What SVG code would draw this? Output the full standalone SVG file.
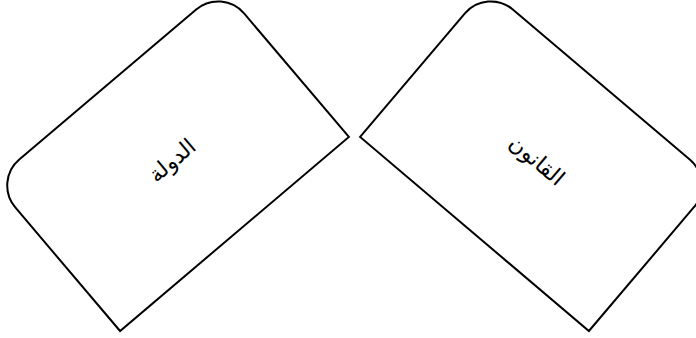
<svg xmlns="http://www.w3.org/2000/svg" width="696" height="338" viewBox="0 0 696 338">
<style>
.shape{fill:#fff;stroke:#000;stroke-width:2;stroke-linejoin:miter}
.lbl{font-family:"Noto Sans","DejaVu Sans",sans-serif;font-size:22px;fill:#000;text-anchor:middle;dominant-baseline:central}
</style>
<defs>
<path id="card" d="M -150,98 L -150,-64 A 34 34 0 0 1 -116,-98 L 116,-98 A 34 34 0 0 1 150,-64 L 150,98 Z"/>
</defs>
<rect width="696" height="338" fill="#fff"/>
<g id="connectors"></g>
<g id="node-state" transform="translate(171.1,159.25) rotate(-40.3)">
<use href="#card" class="shape"/>
<text class="lbl" x="0" y="0" direction="rtl">الدولة</text>
</g>
<g id="node-law" transform="translate(537.9,159.25) rotate(40.3)">
<use href="#card" class="shape"/>
<text class="lbl" x="0" y="0" direction="rtl">القانون</text>
</g>
</svg>
